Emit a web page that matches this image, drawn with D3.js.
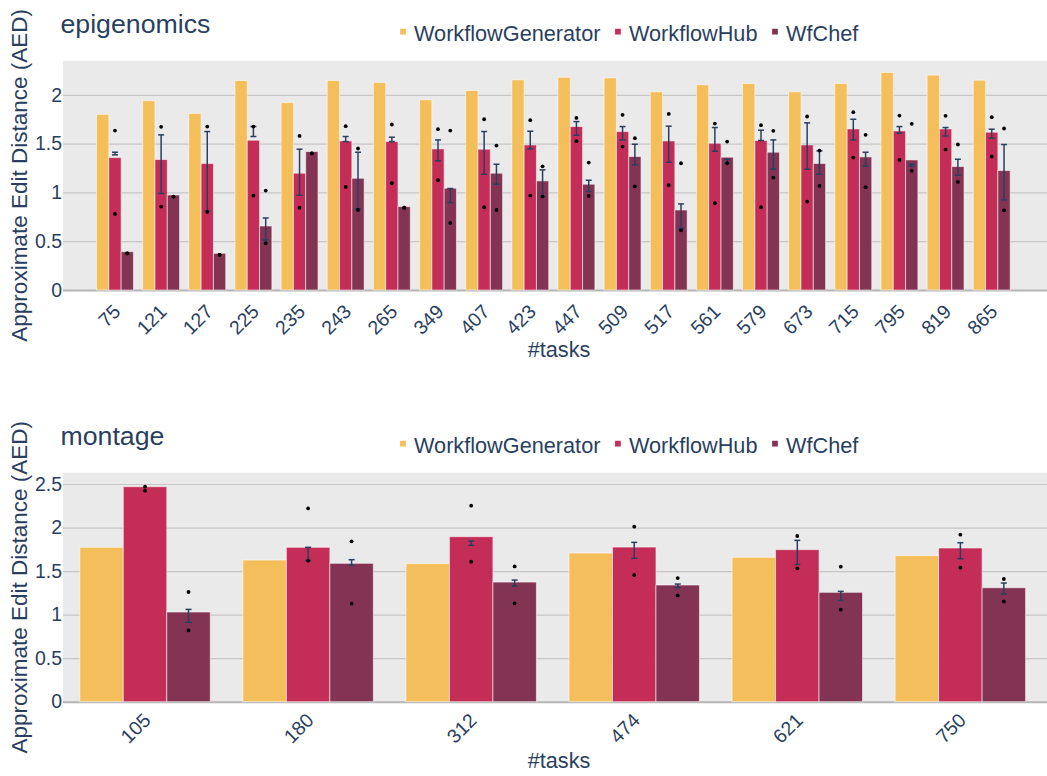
<!DOCTYPE html>
<html>
<head>
<meta charset="utf-8">
<script src="https://cdn.jsdelivr.net/npm/d3@7"></script>
<style>
  html, body { margin: 0; padding: 0; background: #fff; }
  svg { display: block; }
  text { font-family: "Liberation Sans", Arial, sans-serif; fill: #2a3f5f; }
</style>
</head>
<body>
<svg id="chart" width="1047" height="776"></svg>
<script>
// ---------- DATA ----------
const seriesNames = ["WorkflowGenerator", "WorkflowHub", "WfChef"];

// epigenomics
const epiTasks = ["75","121","127","225","235","243","265","349","407","423","447","509","517","561","579","673","715","795","819","865"];
const epiGen = [1.80,1.94,1.81,2.147,1.92,2.147,2.127,1.949,2.044,2.154,2.18,2.174,2.031,2.103,2.116,2.031,2.116,2.229,2.202,2.15];
const epiHub = [1.357,1.337,1.296,1.535,1.197,1.528,1.521,1.446,1.443,1.487,1.675,1.624,1.528,1.504,1.532,1.487,1.651,1.631,1.651,1.617];
const epiHubErrHi = [1.412,1.59,1.624,1.675,1.443,1.573,1.566,1.538,1.624,1.627,1.726,1.675,1.679,1.665,1.638,1.713,1.75,1.675,1.665,1.648];
const epiHubErrLo = [1.385,0.99,0.81,1.573,0.971,1.521,1.521,1.323,1.186,1.446,1.586,1.538,1.309,1.422,1.532,1.238,1.538,1.607,1.579,1.556];
const epiHubDotHi = [1.634,1.672,1.675,1.675,1.579,1.679,1.696,1.648,1.75,1.74,1.764,1.795,1.805,1.706,1.689,1.778,1.822,1.788,1.785,1.771];
const epiHubDotLo = [0.78,0.855,0.80,0.967,0.844,1.056,1.094,1.125,0.848,0.968,1.525,1.47,1.074,0.889,0.848,0.906,1.357,1.333,1.439,1.368];
const epiChef = [0.393,0.974,0.376,0.656,1.419,1.145,0.855,1.043,1.197,1.118,1.084,1.368,0.82,1.361,1.412,1.296,1.364,1.333,1.265,1.224];
const epiChefErrHi = [0.376,0.957,0.36,0.738,1.40,1.412,0.844,1.04,1.289,1.231,1.125,1.494,0.882,1.34,1.538,1.426,1.412,1.29,1.34,1.491];
const epiChefErrLo = [0.376,0.957,0.36,0.513,1.40,0.83,0.844,0.896,1.084,0.957,1.009,1.282,0.632,1.30,1.238,1.186,1.268,1.27,1.176,0.923];
const epiChefDotHi = [0.376,0.957,0.36,1.019,1.40,1.45,0.844,1.634,1.48,1.268,1.306,1.556,1.299,1.521,1.631,1.429,1.59,1.703,1.491,1.655];
const epiChefDotLo = [0.376,0.957,0.36,0.479,1.40,0.82,0.844,0.687,0.82,0.957,0.964,1.063,0.612,1.299,1.152,1.067,1.053,1.221,1.108,0.817];
const epiTicks = [0, 0.5, 1, 1.5, 2];

// montage
const monTasks = ["105","180","312","474","621","750"];
const monGen = [1.773,1.627,1.585,1.707,1.658,1.677];
const monHub = [2.469,1.773,1.895,1.776,1.746,1.765];
const monHubErrHi = [2.469,1.773,1.845,1.83,1.853,1.826];
const monHubErrLo = [2.469,1.62,1.796,1.646,1.577,1.642];
const monHubDotHi = [2.469,2.22,2.251,2.01,1.903,1.918];
const monHubDotLo = [2.423,1.62,1.608,1.455,1.531,1.539];
const monChef = [1.03,1.589,1.374,1.34,1.256,1.309];
const monChefErrHi = [1.06,1.631,1.397,1.351,1.267,1.363];
const monChefErrLo = [0.911,1.57,1.328,1.309,1.164,1.237];
const monChefDotHi = [1.26,1.842,1.554,1.42,1.551,1.409];
const monChefDotLo = [0.819,1.126,1.129,1.221,1.057,1.152];
const monTicks = [0, 0.5, 1, 1.5, 2, 2.5];

// ---------- STYLE ----------
const colors = ["#F4BE5B", "#C32D57", "#843453"];
const svg = d3.select("#chart");

function drawChart(cfg) {
  const g = svg.append("g");
  const plotLeft = 63, plotRight = 1047;
  const y = d3.scaleLinear().domain([0, cfg.yMax]).range([cfg.plotBottom, cfg.plotTop]);
  const x = d3.scaleBand().domain(cfg.cats).range(cfg.xRange).paddingInner(0.2).paddingOuter(0.1);
  const xs = d3.scaleBand().domain(seriesNames).range([0, x.bandwidth()]);

  // background
  g.append("rect").attr("x", plotLeft).attr("y", cfg.plotTop)
    .attr("width", plotRight - plotLeft).attr("height", cfg.plotBottom - cfg.plotTop)
    .attr("fill", "#EAEAEA");

  // grid
  const yAxis = d3.axisLeft(y).tickValues(cfg.ticks).tickSize(-(plotRight - plotLeft)).tickPadding(1)
    .tickFormat(d3.format("~g"));
  const ya = g.append("g").attr("transform", `translate(${plotLeft},0)`).call(yAxis);
  ya.select(".domain").remove();
  ya.selectAll(".tick line").attr("stroke", d => d === 0 ? "#b5b5b5" : "#c6c6c6")
    .attr("stroke-width", d => d === 0 ? 2 : 1.2);
  ya.selectAll(".tick text").attr("font-size", 19.5).attr("fill", "#2a3f5f")
    .attr("font-family", '"Liberation Sans", Arial, sans-serif').attr("x", -1);

  // bars
  const series = [
    { name: seriesNames[0], vals: cfg.gen },
    { name: seriesNames[1], vals: cfg.hub, hi: cfg.hubErrHi, lo: cfg.hubErrLo, dHi: cfg.hubDotHi, dLo: cfg.hubDotLo },
    { name: seriesNames[2], vals: cfg.chef, hi: cfg.chefErrHi, lo: cfg.chefErrLo, dHi: cfg.chefDotHi, dLo: cfg.chefDotLo }
  ];
  series.forEach((s, si) => {
    const sg = g.append("g");
    sg.selectAll("rect").data(s.vals).join("rect")
      .attr("x", (d, i) => x(cfg.cats[i]) + xs(s.name))
      .attr("width", xs.bandwidth())
      .attr("y", d => y(d))
      .attr("height", d => y(0) - y(d))
      .attr("fill", colors[si])
      .attr("stroke", "rgba(255,255,255,0.55)")
      .attr("stroke-width", 1);
  });
  // error bars and dots
  series.forEach((s, si) => {
    if (!s.hi) return;
    const eg = g.append("g");
    s.vals.forEach((v, i) => {
      const cx = x(cfg.cats[i]) + xs(s.name) + xs.bandwidth() / 2;
      if (s.hi[i] > s.lo[i]) {
        eg.append("line").attr("x1", cx).attr("x2", cx).attr("y1", y(s.hi[i])).attr("y2", y(s.lo[i]))
          .attr("stroke", "#2a3f5f").attr("stroke-width", 1.5);
        [s.hi[i], s.lo[i]].forEach(e => {
          eg.append("line").attr("x1", cx - 3).attr("x2", cx + 3).attr("y1", y(e)).attr("y2", y(e))
            .attr("stroke", "#2a3f5f").attr("stroke-width", 1.5);
        });
      }
      [s.dHi[i], s.dLo[i]].forEach(dv => {
        eg.append("circle").attr("cx", cx).attr("cy", y(dv)).attr("r", 1.9).attr("fill", "#000");
      });
    });
  });

  // x tick labels
  g.append("g").selectAll("text").data(cfg.cats).join("text")
    .attr("transform", d => `translate(${x(d) + x.bandwidth() / 2 + 2},${cfg.plotBottom + cfg.tickOff}) rotate(-45)`)
    .attr("text-anchor", "end").attr("dy", "0.35em").attr("font-size", 19.5)
    .text(d => d);

  // axis titles
  g.append("text").attr("transform", `translate(27,${(cfg.plotTop + cfg.plotBottom) / 2}) rotate(-90)`)
    .attr("text-anchor", "middle").attr("font-size", 22.5).text("Approximate Edit Distance (AED)");
  g.append("text").attr("x", 559).attr("y", cfg.plotBottom + 66.5).attr("text-anchor", "middle")
    .attr("font-size", 21.7).text("#tasks");

  // title
  g.append("text").attr("x", 60.5).attr("y", cfg.plotTop - 27.5).attr("font-size", 26.7).text(cfg.title);

  // legend
  const lg = g.append("g").attr("transform", `translate(0,${cfg.plotTop - 19.5})`);
  let lx = 400;
  seriesNames.forEach((n, i) => {
    lg.append("rect").attr("x", lx).attr("y", -12.5).attr("width", 6).attr("height", 6)
      .attr("fill", colors[i]).attr("stroke", "rgba(255,255,255,0.5)").attr("stroke-width", 0.5);
    const t = lg.append("text").attr("x", lx + 14).attr("y", 0).attr("font-size", 21.7).text(n);
    lx += 14 + t.node().getComputedTextLength() + 14.5;
  });
}

drawChart({
  title: "epigenomics", cats: epiTasks, ticks: epiTicks, yMax: 2.35,
  plotTop: 60.7, plotBottom: 290, xRange: [91.9, 1014.8], tickOff: 18,
  gen: epiGen, hub: epiHub, hubErrHi: epiHubErrHi, hubErrLo: epiHubErrLo, hubDotHi: epiHubDotHi, hubDotLo: epiHubDotLo,
  chef: epiChef, chefErrHi: epiChefErrHi, chefErrLo: epiChefErrLo, chefDotHi: epiChefDotHi, chefDotLo: epiChefDotLo
});
drawChart({
  title: "montage", cats: monTasks, ticks: monTicks, yMax: 2.63,
  plotTop: 472.7, plotBottom: 701.7, xRange: [63.5, 1041.9], tickOff: 15,
  gen: monGen, hub: monHub, hubErrHi: monHubErrHi, hubErrLo: monHubErrLo, hubDotHi: monHubDotHi, hubDotLo: monHubDotLo,
  chef: monChef, chefErrHi: monChefErrHi, chefErrLo: monChefErrLo, chefDotHi: monChefDotHi, chefDotLo: monChefDotLo
});
</script>
</body>
</html>
